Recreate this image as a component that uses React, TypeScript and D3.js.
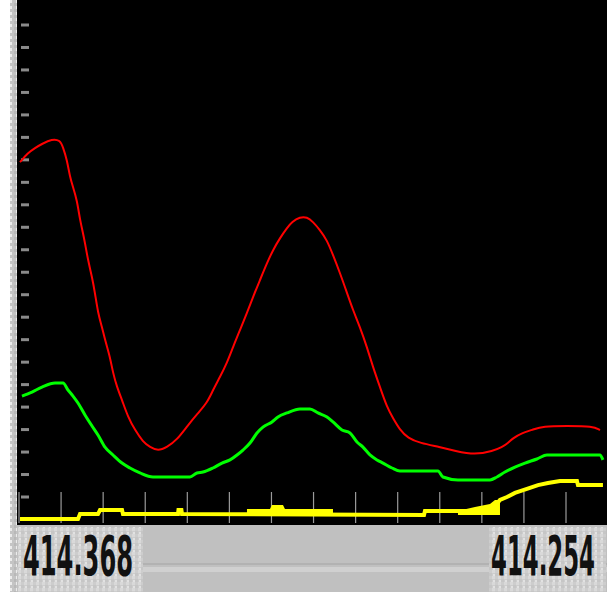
import React from 'react';
import * as d3 from 'd3';

// trace values (x = sample position, y = level)
const redTrace: [number, number][] = [
  [0.24, 149.0], [2.14, 153.1], [3.8, 155.3], [5.47, 157.1], [7.84, 159.3], [9.74, 158.8],
  [10.46, 155.7], [11.41, 149.9], [12.12, 142.3], [12.83, 137.9], [13.78, 132.1], [14.5, 123.2],
  [15.21, 117.5], [15.68, 113.0], [16.4, 105.4], [17.35, 97.9], [18.06, 90.8], [18.77, 81.9],
  [19.72, 75.6], [20.44, 69.9], [21.63, 62.3], [22.34, 55.2], [23.29, 48.9], [24.48, 43.2],
  [25.9, 35.6], [27.57, 29.8], [29.47, 24.5], [31.13, 22.2], [33.03, 20.5], [35.17, 22.2],
  [37.55, 25.4], [40.16, 32.0], [42.54, 37.4], [44.68, 41.8], [46.1, 47.6], [47.77, 53.4],
  [49.43, 59.6], [50.86, 66.7], [52.52, 74.3], [54.18, 81.9], [55.61, 89.0], [57.27, 96.5],
  [58.94, 104.1], [60.36, 109.9], [62.02, 115.2], [63.69, 119.7], [64.88, 122.4], [66.78, 124.6],
  [68.44, 124.6], [69.87, 122.4], [71.53, 118.8], [73.19, 114.3], [74.62, 107.7], [76.28, 99.7],
  [77.95, 90.8], [79.37, 83.2], [81.04, 75.6], [82.7, 66.7], [84.13, 57.8], [85.79, 48.9],
  [87.45, 40.0], [88.88, 35.1], [90.54, 29.8], [92.44, 26.2], [95.29, 24.0], [100.05, 22.2],
  [103.61, 20.5], [108.37, 18.7], [112.64, 20.5], [114.78, 22.2], [116.21, 24.0], [117.4, 26.2],
  [119.53, 28.5], [121.91, 29.8], [124.52, 31.6], [130.23, 31.6], [136.41, 31.6], [138.07, 29.8],
];

const greenTrace: [number, number][] = [
  [0.71, 44.9], [3.09, 46.7], [5.47, 48.9], [8.56, 50.7], [10.46, 50.7], [11.64, 47.6],
  [12.83, 44.9], [14.02, 41.8], [15.68, 36.5], [17.35, 31.6], [18.77, 27.6], [20.44, 22.2],
  [22.34, 18.7], [24.48, 15.1], [26.38, 12.9], [28.75, 10.7], [31.84, 8.9], [40.64, 8.9],
  [42.3, 10.7], [43.73, 11.1], [46.1, 12.9], [48.24, 15.1], [50.14, 16.5], [51.81, 18.7],
  [53.23, 20.9], [54.9, 24.0], [56.56, 28.5], [57.98, 31.1], [60.12, 33.4], [61.55, 35.6],
  [63.69, 37.4], [66.78, 39.2], [69.15, 39.2], [71.06, 37.4], [73.19, 35.6], [74.62, 33.4],
  [76.76, 29.8], [78.66, 28.5], [80.32, 24.5], [81.75, 22.2], [83.41, 18.7], [85.08, 16.5],
  [86.5, 15.1], [88.64, 12.9], [90.54, 11.6], [99.57, 11.6], [100.76, 8.9], [104.33, 7.6],
  [111.93, 7.6], [113.59, 8.9], [115.49, 11.1], [117.87, 13.3], [120.25, 15.1], [123.1, 16.9],
  [125.48, 18.7], [138.07, 18.7], [138.78, 16.5],
];

const yellowTrace: [number, number][] = [
  [0.24, -9.8], [14.02, -9.8], [14.5, -7.6], [18.77, -7.6], [19.25, -5.8], [24.48, -5.8],
  [24.71, -7.6], [37.79, -7.6], [37.9, -5.8], [38.6, -5.8], [38.74, -7.6], [96.25, -8.0],
  [96.48, -6.2], [107.18, -6.2], [111.93, -6.7], [114.31, -1.3], [115.97, 0.0], [117.87, 1.8],
  [120.72, 3.6], [123.34, 5.3], [125.71, 6.2], [128.57, 7.1], [132.6, 7.1], [132.84, 5.3],
  [138.78, 5.3],
];

// blocks of yellow fill above the yellow trace
const yellowBlockA: [number, number][] = [
  [54.18, -5.3], [59.65, -5.3], [60.12, -3.6], [62.74, -3.6], [63.21, -5.3], [74.62, -5.3],
];
const yellowBlockB: [number, number][] = [
  [104.33, -6.2], [108.37, -4.4], [111.93, -3.1], [113.12, -1.3], [114.31, -1.3],
];
const yellowBase = -8.0;

const leftLabel = '414.368';
const rightLabel = '414.254';

const levelTicks = d3.range(0, 211, 10);
const sampleTicks = d3.range(0, 131, 10);

const W = 613;
const H = 592;
const plot = { left: 17, right: 607, top: 0, bottom: 525 };

export default function App() {
  const x = d3.scaleLinear().domain([0, 130]).range([19, 566]);
  const y = d3.scaleLinear().domain([0, 210]).range([497, 25]);

  const smooth = d3.line<[number, number]>()
    .x(d => x(d[0]))
    .y(d => y(d[1]))
    .curve(d3.curveBasis);

  const stepped = d3.line<[number, number]>()
    .x(d => x(d[0]))
    .y(d => y(d[1]))
    .curve(d3.curveMonotoneX);

  const line = d3.line<[number, number]>()
    .x(d => x(d[0]))
    .y(d => y(d[1]));

  const block = d3.area<[number, number]>()
    .x(d => x(d[0]))
    .y0(y(yellowBase))
    .y1(d => y(d[1]));

  const font = "'Liberation Sans Narrow', 'DejaVu Sans Condensed', sans-serif";

  return (
    <svg width={W} height={H} style={{ position: 'absolute', left: 0, top: 0, display: 'block' }}>
      <defs>
        <pattern id="grain" width="6" height="6" patternUnits="userSpaceOnUse">
          <rect width="6" height="6" fill="#cdcdcd" />
          <rect x="0" y="0" width="3" height="3" fill="#d9d9d9" />
          <rect x="3" y="3" width="3" height="3" fill="#c6c6c6" />
          <rect x="1" y="4" width="2" height="2" fill="#e2e2e2" />
        </pattern>
        <pattern id="strip" width="7" height="6" patternUnits="userSpaceOnUse">
          <rect width="7" height="6" fill="#c4c4c4" />
          <rect x="2" y="0" width="3" height="3" fill="#ececec" />
          <rect x="0" y="3" width="2" height="3" fill="#b8b8b8" />
        </pattern>
      </defs>
      <rect width={W} height={H} fill="#ffffff" />
      <rect x={10} y={0} width={7} height={H} fill="url(#strip)" />

      {/* plot background */}
      <rect x={plot.left} y={plot.top} width={plot.right - plot.left} height={plot.bottom - plot.top} fill="#000000" />

      {/* level ticks on the left */}
      {levelTicks.map(t => (
        <rect key={'l' + t} x={21} y={y(t) - 1.5} width={8} height={3} fill="#8a8a8a" />
      ))}

      {/* sample ticks at the bottom */}
      {sampleTicks.map(t => (
        <line key={'s' + t} x1={x(t)} x2={x(t)} y1={492} y2={523} stroke="#9a9a9a" strokeWidth={1.2} />
      ))}

      {/* yellow */}
      <path d={block(yellowBlockA) || ''} fill="#ffff00" />
      <path d={block(yellowBlockB) || ''} fill="#ffff00" />
      <path d={line(yellowTrace) || ''} fill="none" stroke="#ffff00" strokeWidth={4} />

      {/* green */}
      <path d={stepped(greenTrace) || ''} fill="none" stroke="#00ff00" strokeWidth={3} />

      {/* red */}
      <path d={smooth(redTrace) || ''} fill="none" stroke="#ff0000" strokeWidth={2} />

      {/* bottom bar */}
      <rect x={plot.left} y={plot.bottom} width={plot.right - plot.left} height={H - plot.bottom} fill="#c0c0c0" />
      <rect x={plot.left} y={563} width={plot.right - plot.left} height={2} fill="#b2b2b2" />
      <rect x={plot.left} y={567} width={plot.right - plot.left} height={5} fill="#d0d0d0" />
      <rect x={18} y={527} width={125} height={H - 527} fill="url(#grain)" />
      <rect x={489} y={527} width={117} height={H - 527} fill="url(#grain)" />

      {/* tall condensed labels: small font stretched vertically */}
      <g transform="translate(23,575) scale(1,1.55)">
        <text x={0} y={0} fontFamily={font} fontWeight="bold" fontSize={36} fill="#111111"
          textLength={110} lengthAdjust="spacingAndGlyphs">
          {leftLabel}
        </text>
      </g>
      <g transform="translate(491,575) scale(1,1.55)">
        <text x={0} y={0} fontFamily={font} fontWeight="bold" fontSize={36} fill="#111111"
          textLength={104} lengthAdjust="spacingAndGlyphs">
          {rightLabel}
        </text>
      </g>
    </svg>
  );
}
